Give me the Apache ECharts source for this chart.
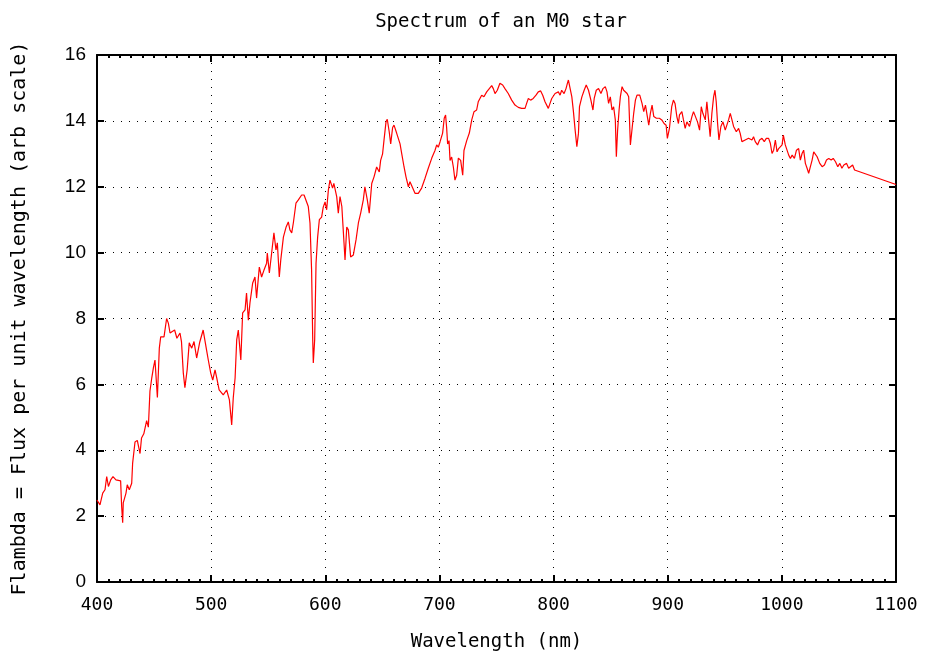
<!DOCTYPE html>
<html>
<head>
<meta charset="utf-8">
<script src="https://cdn.jsdelivr.net/npm/echarts@6/dist/echarts.min.js"></script>
<style>html,body{margin:0;padding:0;background:#fff}#c{width:932px;height:657px}</style>
</head>
<body>
<div id="c"></div>
<script>
const titleText = "Spectrum of an M0 star";
const xName = "Wavelength (nm)";
const yName = "Flambda = Flux per unit wavelength (arb scale)";
const xTicks = [400, 500, 600, 700, 800, 900, 1000, 1100];
const yTicks = [0, 2, 4, 6, 8, 10, 12, 14, 16];

const wavelength = [
400,402.6,405,407,408.5,410,412,414,416.6,420.7,421.6,422.5,423,425.4,426.5,428.3,430.4,431.2,433.3,435.3,
437.7,439,441,443.5,445,446.4,448,449.4,450.8,452.9,454.6,455.8,458.7,461,462.5,464,468,470,472.7,474,
475.6,477,479,480.8,483,485,487.3,490,493,494.6,496,497.5,499.6,501.4,503.4,504.9,507,510.6,513.6,516,
518,519.4,521,522.4,523.8,526,527.6,529.7,531,532.6,534,536.4,538.4,539.8,542.2,544.2,546.3,548.6,549.2,551,
553,555,556.8,558,559.7,561,563.3,565.7,567.6,569,570.6,572,574.3,576.4,579.3,581.4,583,585.1,586.6,588,
589,589.5,590.7,591.9,593.3,594.8,596.8,598.2,599.8,601.2,602.7,604.1,606.4,607.5,610,611.4,612.9,614.5,616.4,617.3,
618.8,620.2,622.2,624.6,627,629,631,633.3,634.7,636.8,638.5,640.7,642.7,645,647.3,648.5,650.2,651.4,653.2,654.3,
656,657.3,659,660.2,662.5,665.5,667,669,670.7,672.8,674.2,675.7,678.6,681.5,684.4,687.4,690.3,693.3,696.1,697.6,
699,700.5,702.8,704.2,705.4,706.3,707.2,708.4,709.3,710.7,712.2,713.6,715.1,716.6,718.6,720.4,721.5,723.9,726.2,728.3,
730.3,732.6,734,735.5,737,739,741.4,743.7,745.8,747.2,748.7,750.7,753,755.4,757.4,760.3,763.3,766.2,769.1,772,
775,776.4,777.9,779.9,782.2,784.6,786.6,788.7,790.5,792.5,794,795.4,796.9,798.4,799.8,801.3,802.8,804.2,805.7,807.1,
809.2,810.9,812.1,813,814.5,816,817.4,818.9,820.4,821.8,822.7,824.8,826.8,828.6,830.6,832.7,834.5,835.6,837.4,839.4,
841.5,843.3,845.3,846.8,848.2,849.7,851.2,852.6,854.1,855,856.1,857.4,858.5,860,861.4,862.9,864.4,865.8,867.3,868.8,
870.2,871.7,873.1,875.5,877.5,879,880.5,881.9,883.4,884.8,886.3,887.8,890.1,892.7,894.8,896.8,898.6,899.7,901.5,903.5,
905,906.4,908,909.4,910.3,912.4,913.8,915.3,916.8,919.1,921.2,922.6,924.1,926.1,927.9,929.4,930.8,932.9,934.3,935.8,
937.2,938.7,940.2,941.4,942.5,943.7,944.9,946.6,948.4,950.4,951.9,953.3,954.8,956.3,957.7,960.1,962.1,963.5,965,967.9,
970.8,973.8,975.2,976.7,978.7,980.5,982.6,984.6,986.4,988.4,989.9,991.4,992.8,994.3,995.8,997.2,998.7,1000.2,1001.3,1003,
1004.6,1006,1007.5,1009,1011,1012.8,1014.7,1016.2,1017.7,1019.1,1020.6,1022.1,1023.5,1025,1026.5,1027.9,1029.4,1030.9,1033.2,1035.3,
1037.3,1039.1,1041.1,1043.2,1045,1047,1049,1050.8,1052.6,1054.3,1056.7,1058.5,1060.2,1062,1063.7,1100
];
const flux = [
2.49,2.34,2.7,2.8,3.2,2.9,3.1,3.2,3.1,3.07,2.29,1.8,2.4,2.7,2.95,2.8,3.0,3.6,4.25,4.3,
3.9,4.37,4.5,4.9,4.7,5.8,6.2,6.5,6.74,5.6,7.1,7.44,7.44,8.0,7.86,7.56,7.65,7.4,7.56,7.3,
6.35,5.9,6.45,7.26,7.1,7.3,6.8,7.28,7.65,7.7,7.04,6.74,6.35,6.13,6.44,6.2,5.83,5.68,5.83,5.53,
4.77,5.6,6.2,7.35,7.65,6.74,8.17,8.26,8.77,7.95,8.47,9.08,9.26,8.62,9.56,9.26,9.47,9.68,9.99,9.38,
9.99,10.6,10.08,10.3,9.26,9.78,10.47,10.78,10.93,10.69,10.6,10.9,11.5,11.6,11.75,11.75,11.7,11.4,10.9,9.47,
7.35,6.65,7.35,9.68,10.47,11.0,11.08,11.38,11.54,11.3,11.9,12.2,11.96,12.1,11.7,11.2,11.7,11.4,10.3,9.78,
10.78,10.69,9.87,9.93,10.4,10.9,11.2,11.6,12.0,11.6,11.2,12.1,12.3,12.6,12.45,12.8,13.0,13.4,13.97,14.05,
13.67,13.3,13.8,13.87,13.63,13.3,13.0,12.6,12.3,12.0,12.15,12.1,11.8,11.8,11.96,12.26,12.57,12.87,13.1,13.27,
13.2,13.36,13.63,14.08,14.18,13.8,13.3,13.4,12.8,12.9,12.6,12.2,12.35,12.87,12.8,12.35,13.1,13.4,13.63,14.03,
14.28,14.33,14.58,14.54,14.78,14.73,14.88,14.98,15.07,14.98,14.83,14.93,15.14,15.09,14.98,14.83,14.63,14.48,14.41,14.38,
14.38,14.53,14.68,14.63,14.68,14.78,14.88,14.91,14.78,14.58,14.53,14.38,14.53,14.68,14.63,14.83,14.78,14.88,14.78,14.93,
14.83,14.98,15.14,15.24,15.19,14.73,14.28,13.72,13.22,13.62,14.43,14.73,14.93,15.09,14.93,14.63,14.33,14.68,14.93,14.98,
14.83,14.98,15.04,14.88,14.53,14.73,14.33,14.43,14.03,12.91,13.72,14.33,14.73,15.04,14.93,14.98,14.83,14.73,13.27,13.77,
14.23,14.63,14.78,14.78,14.53,14.28,14.48,14.18,13.87,14.23,14.48,14.13,14.08,14.08,14.03,13.92,13.87,13.47,13.77,14.43,
14.63,14.53,14.13,13.92,14.18,14.28,14.03,13.77,13.97,13.83,14.13,14.28,14.23,13.97,13.72,14.43,14.23,14.03,14.58,14.03,
13.52,14.23,14.73,14.93,14.58,13.92,13.42,13.83,13.97,13.72,13.67,14.03,14.23,14.03,13.83,13.67,13.77,13.62,13.37,13.42,
13.47,13.42,13.52,13.37,13.27,13.42,13.47,13.37,13.47,13.47,13.32,13.01,13.11,13.42,13.06,13.16,13.11,13.27,13.57,13.27,
13.32,12.96,12.86,12.96,12.86,13.11,13.16,12.81,13.01,13.11,12.71,12.56,12.41,12.61,12.81,13.06,13.09,12.91,12.71,12.61,
12.66,12.81,12.86,12.81,12.86,12.76,12.61,12.71,12.56,12.66,12.71,12.56,12.61,12.66,12.51,12.07
];

const points = wavelength.map((w, i) => [w, flux[i]]);
const monoFont = "'DejaVu Sans Mono', 'Liberation Mono', monospace";
const dotted = { color: '#000', width: 1, type: [1, 7] };

const chart = echarts.init(document.getElementById('c'), null, { renderer: 'canvas' });
chart.setOption({
  animation: false,
  backgroundColor: '#fff',
  title: {
    text: titleText, left: 496, top: 8, textAlign: 'center',
    textStyle: { fontFamily: monoFont, fontSize: 19, fontWeight: 'normal', color: '#000' }
  },
  grid: { left: 97, right: 36, top: 55, bottom: 75, containLabel: false },
  xAxis: [{
    type: 'value', min: xTicks[0], max: xTicks[xTicks.length - 1], interval: 100,
    name: xName, nameLocation: 'middle', nameGap: 51,
    nameTextStyle: { fontFamily: monoFont, fontSize: 19, color: '#000' },
    axisLine: { show: true, onZero: false, lineStyle: { color: '#000', width: 2 } },
    axisTick: { show: true, inside: true, length: 7, lineStyle: { color: '#000', width: 2 } },
    minorTick: { show: true, splitNumber: 10, length: 3, lineStyle: { color: '#000', width: 2 } },
    axisLabel: { margin: 14, fontFamily: monoFont, fontSize: 18, color: '#000', formatter: v => String(v) },
    splitLine: { show: true, lineStyle: dotted }
  }, {
    type: 'value', position: 'top', min: xTicks[0], max: xTicks[xTicks.length - 1], interval: 100,
    axisLine: { show: true, onZero: false, lineStyle: { color: '#000', width: 2 } },
    axisTick: { show: true, inside: true, length: 7, lineStyle: { color: '#000', width: 2 } },
    minorTick: { show: true, splitNumber: 10, length: 3, lineStyle: { color: '#000', width: 2 } },
    axisLabel: { show: false }, splitLine: { show: false }
  }],
  yAxis: [{
    type: 'value', min: yTicks[0], max: yTicks[yTicks.length - 1], interval: 2,
    name: yName, nameLocation: 'middle', nameGap: 67,
    nameTextStyle: { fontFamily: monoFont, fontSize: 20, color: '#000' },
    axisLine: { show: true, onZero: false, lineStyle: { color: '#000', width: 2 } },
    axisTick: { show: true, inside: true, length: 7, lineStyle: { color: '#000', width: 2 } },
    axisLabel: { margin: 11, fontFamily: "'Liberation Sans', Arial, sans-serif", fontSize: 19, color: '#000', formatter: v => String(v) },
    splitLine: { show: true, lineStyle: dotted }
  }, {
    type: 'value', position: 'right', min: yTicks[0], max: yTicks[yTicks.length - 1], interval: 2,
    axisLine: { show: true, onZero: false, lineStyle: { color: '#000', width: 2 } },
    axisTick: { show: true, inside: true, length: 7, lineStyle: { color: '#000', width: 2 } },
    axisLabel: { show: false }, splitLine: { show: false }
  }],
  series: [{
    type: 'line', xAxisIndex: 0, yAxisIndex: 0, data: points,
    showSymbol: false, symbol: 'none',
    lineStyle: { color: '#ff0000', width: 1.2 }
  }]
});
</script>
</body>
</html>
